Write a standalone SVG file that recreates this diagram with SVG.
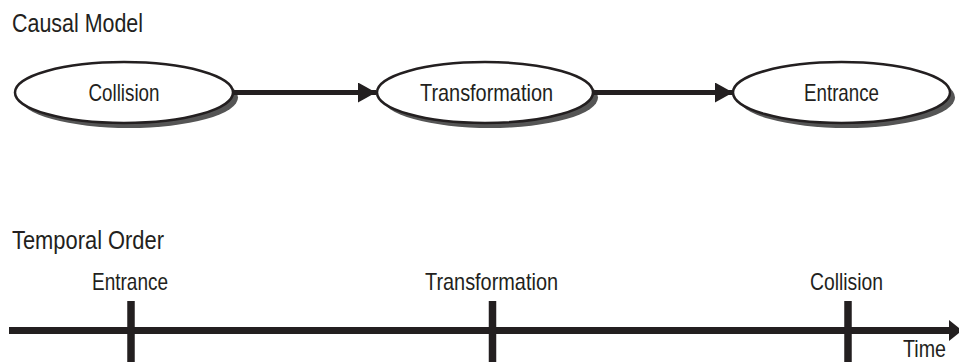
<svg xmlns="http://www.w3.org/2000/svg" width="959" height="362" viewBox="0 0 959 362">
<style>
text{font-family:"Liberation Sans Narrow","Liberation Sans",Arial,sans-serif;fill:#231f20}
.t{font-size:25px}
.n{font-size:24px;text-anchor:middle}
.sh{fill:#555}
.el{fill:#fff;stroke:#231f20;stroke-width:2.5}
.ln{stroke:#231f20;fill:none}
</style>
<defs>
<marker id="ah" markerWidth="18" markerHeight="20" refX="18" refY="10" orient="auto" markerUnits="userSpaceOnUse">
<path d="M0,0 L18,10 L0,20 Z" fill="#231f20"/>
</marker>
</defs>
<rect width="959" height="362" fill="#fff"/>
<text class="t" x="12" y="32" textLength="131" lengthAdjust="spacingAndGlyphs">Causal Model</text>
<text class="t" x="12" y="249" textLength="152" lengthAdjust="spacingAndGlyphs">Temporal Order</text>
<g id="collision">
<ellipse class="sh" cx="129" cy="97.5" rx="109" ry="30.5"/>
<ellipse class="el" cx="124" cy="92.5" rx="109" ry="30.5"/>
<text class="n" x="124" y="100.5" textLength="71" lengthAdjust="spacingAndGlyphs">Collision</text>
</g>
<g id="transformation">
<ellipse class="sh" cx="490" cy="97.5" rx="108" ry="30.5"/>
<ellipse class="el" cx="485" cy="92.5" rx="108" ry="30.5"/>
<text class="n" x="486.5" y="100.5" textLength="133" lengthAdjust="spacingAndGlyphs">Transformation</text>
</g>
<g id="entrance">
<ellipse class="sh" cx="846.5" cy="97.5" rx="108.5" ry="30.5"/>
<ellipse class="el" cx="841.5" cy="92.5" rx="108.5" ry="30.5"/>
<text class="n" x="841.5" y="100.5" textLength="75" lengthAdjust="spacingAndGlyphs">Entrance</text>
</g>
<g id="connectors">
<line class="ln" x1="234" y1="92.5" x2="376" y2="92.5" stroke-width="5" marker-end="url(#ah)"/>
<line class="ln" x1="594" y1="92.5" x2="733" y2="92.5" stroke-width="5" marker-end="url(#ah)"/>
</g>
<g id="timeline">
<line class="ln" x1="9" y1="330.5" x2="952" y2="330.5" stroke-width="7"/>
<path d="M949,320 L962,330.5 L949,341 Z" fill="#231f20"/>
<line class="ln" x1="131" y1="301" x2="131" y2="362" stroke-width="7.5"/>
<line class="ln" x1="492.5" y1="301" x2="492.5" y2="362" stroke-width="7.5"/>
<line class="ln" x1="848" y1="301" x2="848" y2="362" stroke-width="7.5"/>
<text class="n" x="130" y="290" textLength="76" lengthAdjust="spacingAndGlyphs">Entrance</text>
<text class="n" x="491.5" y="290" textLength="133" lengthAdjust="spacingAndGlyphs">Transformation</text>
<text class="n" x="846.5" y="290" textLength="73" lengthAdjust="spacingAndGlyphs">Collision</text>
<text class="n" x="924.5" y="357" textLength="43" lengthAdjust="spacingAndGlyphs">Time</text>
</g>
</svg>
